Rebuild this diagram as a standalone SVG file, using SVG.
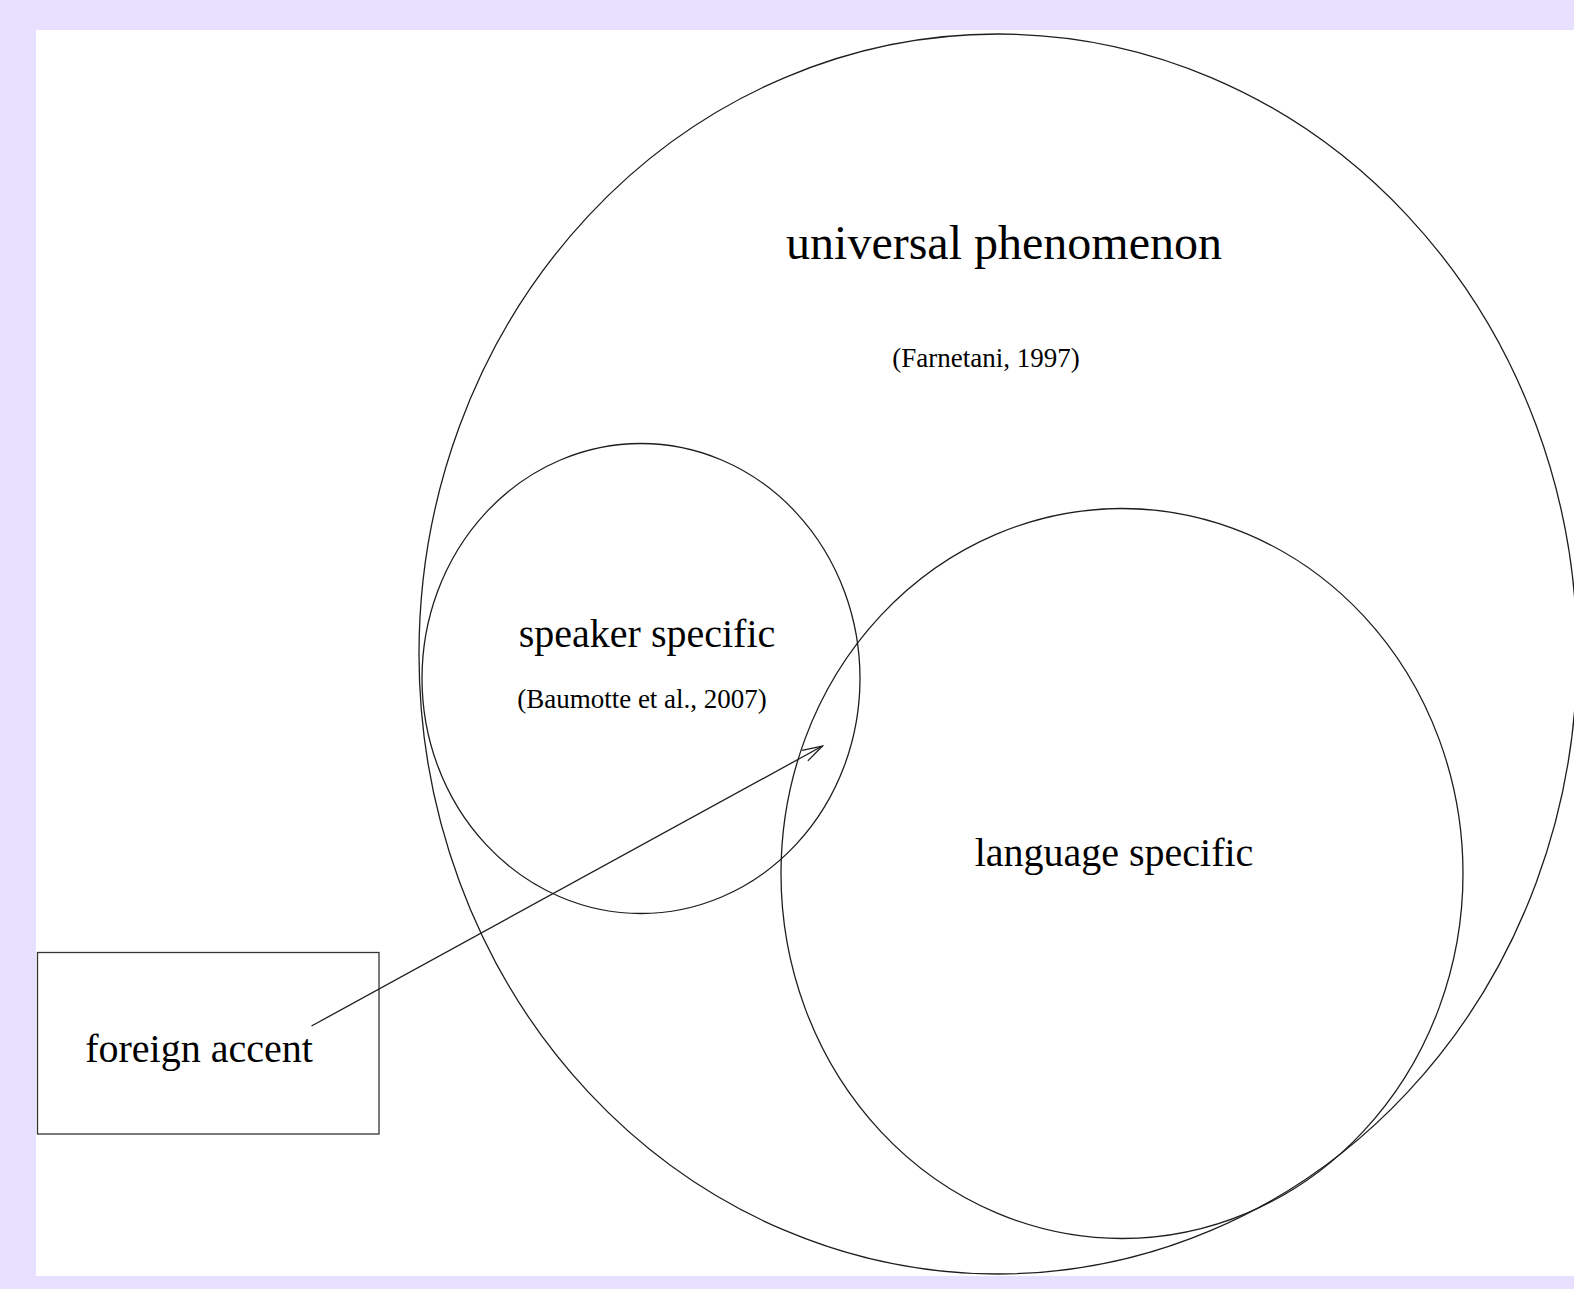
<svg xmlns="http://www.w3.org/2000/svg" width="1574" height="1289" viewBox="0 0 1574 1289">
<style>
.shape{fill:none;stroke:#1e1e1e;stroke-width:1.3}
.box{fill:#ffffff;stroke:#333;stroke-width:1.3}
.t{font-family:"Liberation Serif","Times New Roman",serif;fill:#000;text-anchor:middle}
.big{font-size:48px}
.mid{font-size:40px}
.small{font-size:27px}
</style>
<defs>
<marker id="arrow" markerUnits="userSpaceOnUse" markerWidth="24" markerHeight="16" refX="21" refY="7" orient="auto" viewBox="0 0 24 16">
<path d="M1,1 L21,7 L1,13" fill="none" stroke="#1e1e1e" stroke-width="1.3"/>
</marker>
</defs>
<rect x="0" y="0" width="1574" height="1289" fill="#e7e0ff"/>
<rect x="36" y="30" width="1538" height="1246" fill="#ffffff"/>
<g id="universal">
<ellipse class="shape" cx="998" cy="654" rx="579" ry="620"/>
<text class="t big" x="1004" y="259">universal phenomenon</text>
<text class="t small" x="986" y="367">(Farnetani, 1997)</text>
</g>
<g id="speaker">
<ellipse class="shape" cx="641" cy="678.5" rx="219" ry="235"/>
<text class="t mid" x="647" y="647">speaker specific</text>
<text class="t small" x="642" y="708">(Baumotte et al., 2007)</text>
</g>
<g id="language">
<ellipse class="shape" cx="1122" cy="873.5" rx="341" ry="365"/>
<text class="t mid" x="1114" y="866">language specific</text>
</g>
<g id="foreign">
<rect class="box" x="37.5" y="952.5" width="341.5" height="181.5"/>
<text class="t mid" x="199" y="1062">foreign accent</text>
</g>
<g id="connectors">
<line class="shape" x1="311.5" y1="1026" x2="822.5" y2="746" marker-end="url(#arrow)"/>
</g>
</svg>
